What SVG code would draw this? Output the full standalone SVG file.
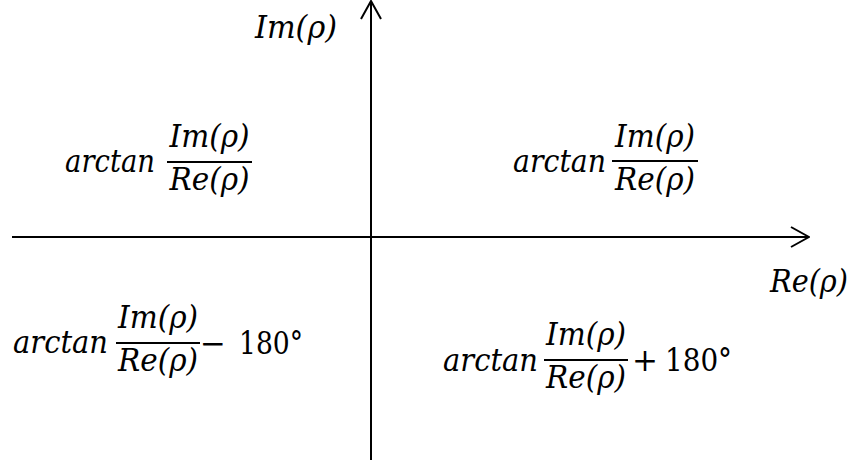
<svg xmlns="http://www.w3.org/2000/svg" width="854" height="463" viewBox="0 0 854 463">
  <style>
    .m { font-family: "DejaVu Serif", "Liberation Serif", serif; font-style: italic; font-size: 31px; fill: #000; }
    .u { font-family: "DejaVu Serif", "Liberation Serif", serif; font-size: 31px; fill: #000; }
    .c { text-anchor: middle; }
    .bar { stroke: #000; stroke-width: 2; }
    .axis { stroke: #000; stroke-width: 2; fill: none; }
  </style>
  <defs>
    <marker id="arr" viewBox="0 0 20 22" refX="19" refY="11" markerWidth="20" markerHeight="22" markerUnits="userSpaceOnUse" orient="auto">
      <path d="M1,1 L19,11 L1,21" fill="none" stroke="#000" stroke-width="2"/>
    </marker>
  </defs>
  <rect width="854" height="463" fill="#fff"/>

  <g id="connectors">
    <line class="axis" x1="12" y1="237" x2="809" y2="237" marker-end="url(#arr)"/>
    <line class="axis" x1="371" y1="460" x2="371" y2="1" marker-end="url(#arr)"/>
  </g>

  <g id="label-im">
    <text class="m" x="255" y="38" textLength="82" lengthAdjust="spacingAndGlyphs">Im(ρ)</text>
  </g>
  <g id="label-re">
    <text class="m" x="770" y="292" textLength="78" lengthAdjust="spacingAndGlyphs">Re(ρ)</text>
  </g>

  <g id="q2">
    <text class="m" x="65" y="172" textLength="90" lengthAdjust="spacingAndGlyphs">arctan</text>
    <text class="m c" x="209.5" y="147" textLength="80" lengthAdjust="spacingAndGlyphs">Im(ρ)</text>
    <line class="bar" x1="167" y1="162" x2="252" y2="162"/>
    <text class="m c" x="209.5" y="190" textLength="80" lengthAdjust="spacingAndGlyphs">Re(ρ)</text>
  </g>

  <g id="q1">
    <text class="m" x="513" y="172" textLength="93" lengthAdjust="spacingAndGlyphs">arctan</text>
    <text class="m c" x="655" y="147" textLength="80" lengthAdjust="spacingAndGlyphs">Im(ρ)</text>
    <line class="bar" x1="612" y1="161" x2="698" y2="161"/>
    <text class="m c" x="655" y="190" textLength="80" lengthAdjust="spacingAndGlyphs">Re(ρ)</text>
  </g>

  <g id="q3">
    <text class="m" x="13" y="353" textLength="95" lengthAdjust="spacingAndGlyphs">arctan</text>
    <text class="m c" x="158" y="328" textLength="80" lengthAdjust="spacingAndGlyphs">Im(ρ)</text>
    <line class="bar" x1="116" y1="343" x2="200" y2="343"/>
    <text class="m c" x="158" y="371" textLength="80" lengthAdjust="spacingAndGlyphs">Re(ρ)</text>
    <text class="u c" x="213" y="354">−</text>
    <text class="u" x="239" y="354" textLength="64" lengthAdjust="spacingAndGlyphs">180°</text>
  </g>

  <g id="q4">
    <text class="m" x="443" y="371" textLength="95" lengthAdjust="spacingAndGlyphs">arctan</text>
    <text class="m c" x="586" y="345" textLength="80" lengthAdjust="spacingAndGlyphs">Im(ρ)</text>
    <line class="bar" x1="544" y1="360" x2="628" y2="360"/>
    <text class="m c" x="586" y="388" textLength="80" lengthAdjust="spacingAndGlyphs">Re(ρ)</text>
    <text class="u c" x="645" y="371">+</text>
    <text class="u" x="665" y="371" textLength="67" lengthAdjust="spacingAndGlyphs">180°</text>
  </g>
</svg>
